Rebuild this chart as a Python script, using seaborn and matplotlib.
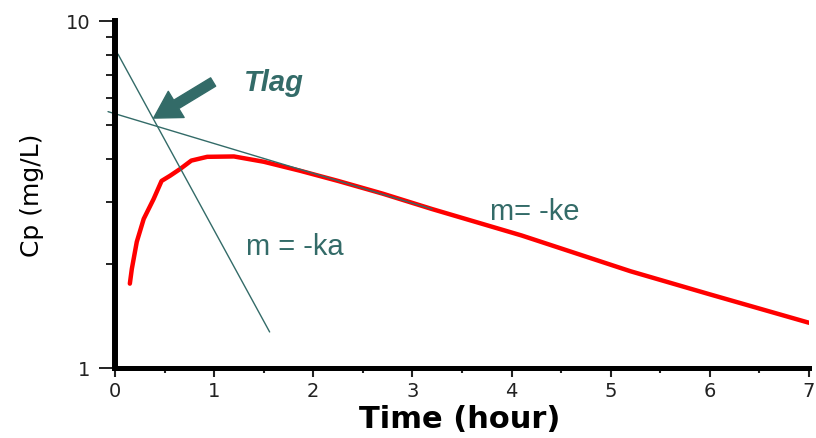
import matplotlib
matplotlib.use("Agg")
import matplotlib.pyplot as plt
import seaborn as sns
import numpy as np
import pandas as pd
from matplotlib.ticker import FixedLocator, NullFormatter, MultipleLocator

# ---- data ----
time_h = [0.15, 0.17, 0.22, 0.29, 0.39, 0.47, 0.555, 0.66, 0.77, 0.93, 1.2, 1.5,
          1.87, 2.25, 2.7, 3.2, 4.1, 5.2, 6.0, 7.0]
cp = [1.75, 1.93, 2.31, 2.69, 3.07, 3.46, 3.58, 3.75, 3.96, 4.06, 4.07, 3.93,
      3.70, 3.46, 3.18, 2.87, 2.41, 1.90, 1.63, 1.35]

ke_t = [-0.07, 3.2]
ke_c = [5.48, 2.87]
ka_t = [0.03, 1.56]
ka_c = [8.03, 1.27]

x_ticks = [0, 1, 2, 3, 4, 5, 6, 7]
y_ticks = [1, 10]
y_ticklabels = ["1", "10"]

tlag_tip = (0.39, 5.25)
tlag_tail = (0.99, 6.67)

teal = "#336b68"

sns.set_style("ticks")
plt.rcParams["font.family"] = ["DejaVu Sans"]

fig = plt.figure(figsize=(8.16, 4.39), dpi=100)
ax = fig.add_axes([0.1409, 0.1595, 0.8505, 0.7904])

df = pd.DataFrame({"t": time_h, "c": cp})
sns.lineplot(data=df, x="t", y="c", ax=ax, color="#ff0000", lw=3.2, sort=False)
sns.lineplot(x=ke_t, y=ke_c, ax=ax, color=teal, lw=1.0, sort=False, clip_on=False)
sns.lineplot(x=ka_t, y=ka_c, ax=ax, color=teal, lw=1.0, sort=False)

ax.set_yscale("log")
ax.set_xlim(0, 7)
ax.set_ylim(1, 10)

ax.yaxis.set_major_locator(FixedLocator(y_ticks))
ax.set_yticklabels(y_ticklabels)
ax.yaxis.set_minor_locator(FixedLocator([2, 3, 4, 5, 6, 7, 8, 9]))
ax.yaxis.set_minor_formatter(NullFormatter())
ax.xaxis.set_major_locator(FixedLocator(x_ticks))
ax.xaxis.set_minor_locator(MultipleLocator(0.5))

for s in ["top", "right"]:
    ax.spines[s].set_visible(False)
ax.spines["left"].set_linewidth(4.3)
ax.spines["bottom"].set_linewidth(3.6)
ax.spines["left"].set_color("black")
ax.spines["bottom"].set_color("black")

ax.tick_params(axis="y", which="major", length=11.5, width=1.4, pad=6,
               labelsize=14, labelcolor="#222222", color="#222222")
ax.tick_params(axis="y", which="minor", length=6.5, width=1.4, color="#222222")
ax.tick_params(axis="x", which="major", length=6.5, width=1.5, pad=3,
               labelsize=14, labelcolor="#222222", color="#222222")
ax.tick_params(axis="x", which="minor", length=3.6, width=1.5, color="#222222")

ax.set_xlabel("Time (hour)", fontsize=22, fontweight="bold", color="black")
ax.set_ylabel("Cp (mg/L)", fontsize=18, color="black")
ax.xaxis.set_label_coords(0.497, -0.147)
ax.xaxis.label.set_va("center")
ax.yaxis.set_label_coords(-0.1196, 0.5)
ax.yaxis.label.set_va("center")

ax.text(1.60, 6.68, "Tlag", fontsize=21, fontweight="bold", fontstyle="italic",
        color=teal, family=["Liberation Sans", "DejaVu Sans"], ha="center", va="center")
ax.text(1.81, 2.25, "m = -ka", fontsize=21, color=teal,
        family=["Liberation Sans", "DejaVu Sans"], ha="center", va="center")
ax.text(4.23, 2.83, "m= -ke", fontsize=21, color=teal,
        family=["Liberation Sans", "DejaVu Sans"], ha="center", va="center")

ax.annotate("", xy=tlag_tip, xytext=tlag_tail,
            arrowprops=dict(arrowstyle="simple,head_length=19,head_width=22,tail_width=7",
                            color=teal, shrinkA=0, shrinkB=0, mutation_scale=1))

fig.savefig("out.png", dpi=100)
